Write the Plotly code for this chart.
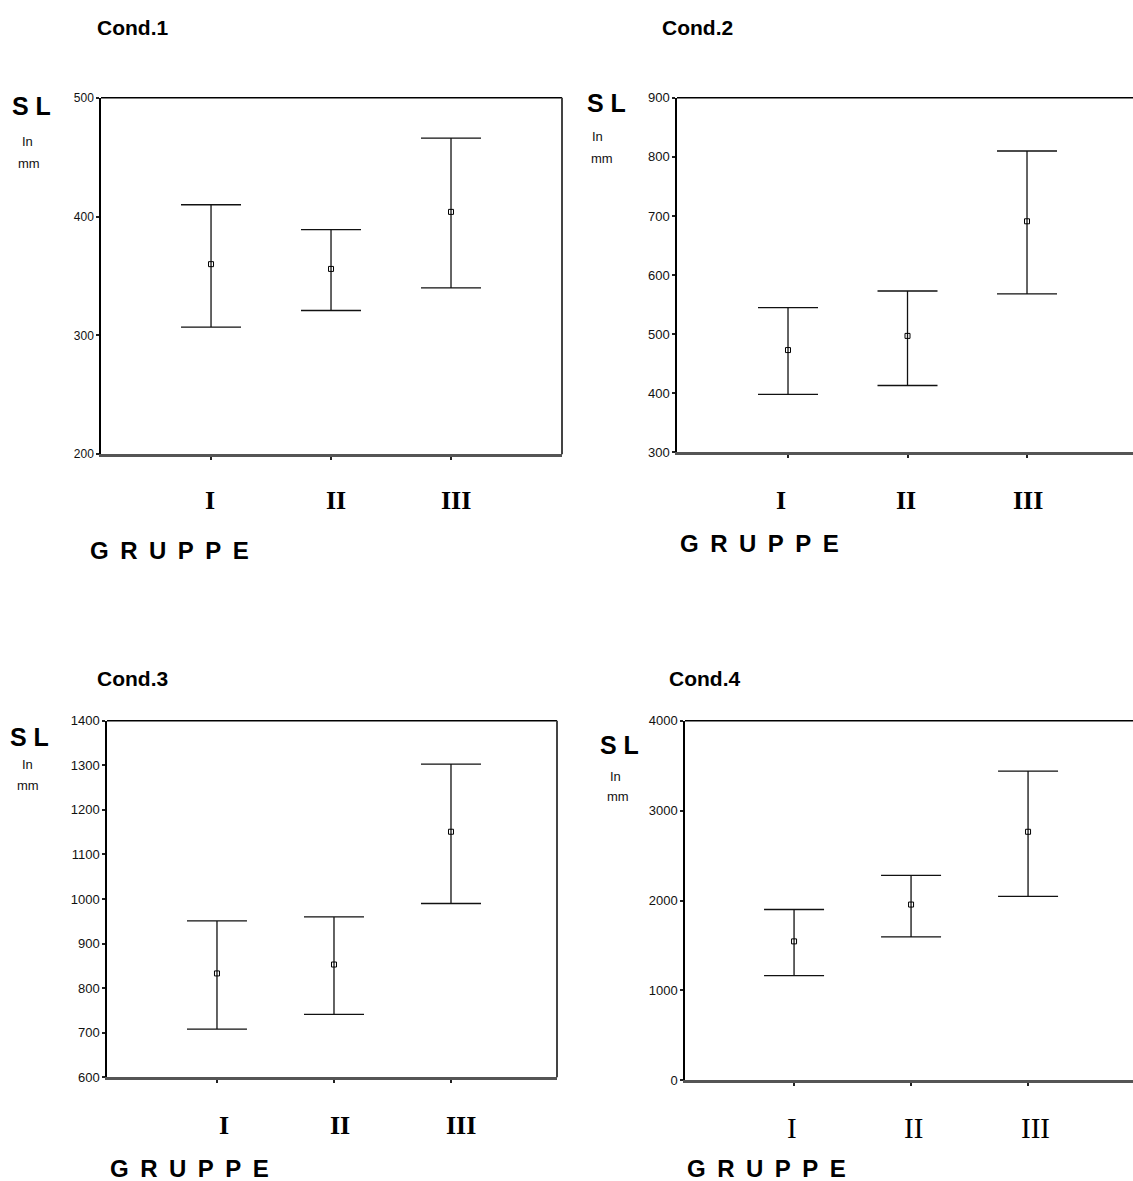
import plotly.graph_objects as go

# Group labels and per-condition statistics (mean with lower / upper interval bounds, SL in mm)
groups = ["I", "II", "III"]

cond1_mean = [360, 356, 404]
cond1_lower = [307, 321, 340]
cond1_upper = [410, 389, 466]

cond2_mean = [473, 497, 691]
cond2_lower = [398, 413, 568]
cond2_upper = [545, 573, 810]

cond3_mean = [833, 853, 1151]
cond3_lower = [708, 741, 990]
cond3_upper = [951, 960, 1303]

cond4_mean = [1545, 1955, 2765]
cond4_lower = [1165, 1595, 2045]
cond4_upper = [1900, 2280, 3440]

titles = ["Cond.1", "Cond.2", "Cond.3", "Cond.4"]
y_ranges = [[200, 500], [300, 900], [600, 1400], [0, 4000]]
y_dticks = [100, 100, 100, 1000]

W, H = 1133, 1181


def fx(px):
    return px / W


def fy(py):
    return 1 - py / H


# plot-area pixel boxes: left, right, top, bottom
boxes = [
    (101, 562, 92, 453),
    (677, 1133, 92, 451),
    (107, 557, 723, 1084),
    (685, 1133, 723, 1087),
]
# category-index ranges so the groups sit at the right spots in each panel
x_ranges = [[-0.917, 2.925], [-0.929, 2.887], [-0.94, 2.906], [-0.932, 2.897]]

series = [
    (cond1_mean, cond1_lower, cond1_upper),
    (cond2_mean, cond2_lower, cond2_upper),
    (cond3_mean, cond3_lower, cond3_upper),
    (cond4_mean, cond4_lower, cond4_upper),
]

fig = go.Figure()
ann = []
shapes = []
SANS = "Liberation Sans, Arial, sans-serif"
SERIF = "Liberation Serif, Times New Roman, serif"

numeral_y = [500, 500, 1133, 1135]
numeral_shift = [[-1, 5, 5], [-7, -2, 1], [7, 6, 10], [-2, 2, 7]]

for i, (mean, lo, hi) in enumerate(series):
    n = i + 1
    xa = "x" if n == 1 else f"x{n}"
    ya = "y" if n == 1 else f"y{n}"
    fig.add_trace(go.Scatter(
        x=groups, y=mean, xaxis=xa, yaxis=ya, mode="markers",
        marker=dict(symbol="square-open", size=5, color="black", line=dict(width=1)),
        error_y=dict(type="data", symmetric=False,
                     array=[h - m for h, m in zip(hi, mean)],
                     arrayminus=[m - l for m, l in zip(mean, lo)],
                     color="#111", thickness=1.3, width=30),
        showlegend=False, hoverinfo="skip",
    ))
    l, r, t, b = boxes[i]
    xkey = "xaxis" if n == 1 else f"xaxis{n}"
    ykey = "yaxis" if n == 1 else f"yaxis{n}"
    fig.layout[xkey] = dict(
        domain=[fx(l), fx(r)], range=x_ranges[i], anchor=ya,
        type="category", categoryorder="array", categoryarray=groups,
        showgrid=False, zeroline=False, showline=True, linecolor="#555", linewidth=3,
        ticks="outside", ticklen=3, tickwidth=2, tickcolor="#222",
        showticklabels=False, fixedrange=True,
    )
    fig.layout[ykey] = dict(
        domain=[fy(b), fy(t)], range=y_ranges[i], anchor=xa,
        tick0=y_ranges[i][0], dtick=y_dticks[i],
        showgrid=False, zeroline=False, showline=True, linecolor="black", linewidth=1.5,
        ticks="outside", ticklen=3, tickwidth=2, tickcolor="#222",
        tickfont=dict(family=SANS, size=12 if n == 1 else 13, color="#111"),
        fixedrange=True,
    )
    # top border line, and right border where the frame is inside the page
    shapes.append(dict(type="line", xref=f"{xa} domain", yref=f"{ya} domain",
                       x0=0, x1=1, y0=1, y1=1, line=dict(color="black", width=1.5)))
    if n in (1, 3):
        shapes.append(dict(type="line", xref=f"{xa} domain", yref=f"{ya} domain",
                           x0=1, x1=1, y0=0, y1=1, line=dict(color="#444", width=2)))

    # group numerals under the axis
    for g, dx in zip(groups, numeral_shift[i]):
        if n == 4:
            font = dict(family=SERIF, size=29, color="black")
            text = g
        else:
            font = dict(family=SERIF, size=26, color="black")
            text = f"<b>{g}</b>"
        ann.append(dict(x=g, xref=xa, y=fy(numeral_y[i]), yref="paper", text=text,
                        showarrow=False, font=font, xanchor="center", yanchor="middle",
                        xshift=dx))

# panel titles
title_pos = [(95, 21), (660, 21), (95, 680), (667, 680)]
for (px, py), t in zip(title_pos, titles):
    ann.append(dict(x=fx(px), y=fy(py), xref="paper", yref="paper", text=f"<b>{t}</b>",
                    showarrow=False, xanchor="left", yanchor="middle",
                    font=dict(family=SANS, size=21, color="black")))

# y axis captions: S L left edge / y, "In" centre, "mm" centre
sl_pos = [
    (10, 100, 27, 136, 29, 159),
    (585, 97, 598, 131, 602, 153),
    (8, 739, 27, 767, 28, 789),
    (598, 747, 615, 779, 618, 800),
]
for (px, y1, cx2, y2, cx3, y3) in sl_pos:
    ann.append(dict(x=fx(px), y=fy(y1), xref="paper", yref="paper", text="<b>S L</b>",
                    showarrow=False, xanchor="left", yanchor="middle",
                    font=dict(family=SANS, size=25, color="black")))
    ann.append(dict(x=fx(cx2), y=fy(y2), xref="paper", yref="paper", text="In",
                    showarrow=False, xanchor="center", yanchor="middle",
                    font=dict(family=SANS, size=13, color="#111")))
    ann.append(dict(x=fx(cx3), y=fy(y3), xref="paper", yref="paper", text="mm",
                    showarrow=False, xanchor="center", yanchor="middle",
                    font=dict(family=SANS, size=13, color="#111")))

# x axis captions
gruppe = "\u2009 ".join("GRUPPE")
gr_pos = [(88, 550), (678, 543), (108, 1176), (685, 1176)]
for px, py in gr_pos:
    ann.append(dict(x=fx(px), y=fy(py), xref="paper", yref="paper", text=f"<b>{gruppe}</b>",
                    showarrow=False, xanchor="left", yanchor="middle",
                    font=dict(family=SANS, size=24, color="black")))

fig.update_layout(
    width=W, height=H, margin=dict(l=0, r=0, t=0, b=0),
    paper_bgcolor="white", plot_bgcolor="white",
    annotations=ann, shapes=shapes, showlegend=False,
)

fig.write_html("out.html", config={"displayModeBar": False})
